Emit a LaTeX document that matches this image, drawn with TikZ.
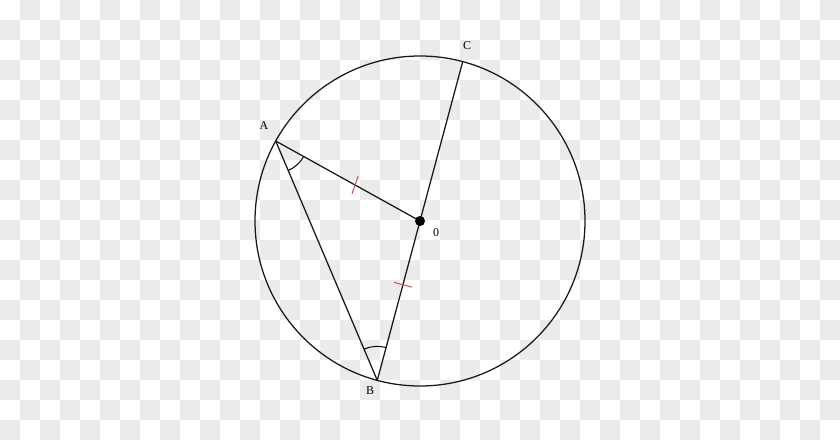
\documentclass[tikz,border=0pt]{standalone}
\usepackage{fontspec}
\setmainfont{Liberation Serif}
\usepackage{tikz}
\usetikzlibrary{calc,angles}

\definecolor{bggrey}{RGB}{235,235,235}
\definecolor{tickred}{RGB}{200,75,85}

\begin{document}
\begin{tikzpicture}[x=0.025cm, y=0.025cm, thick,
    edge/.style = {draw=black!90, line width=0.9pt},
    tick/.style = {draw=tickred, line width=0.7pt},
    lbl/.style = {font=\fontsize{8.5}{10}\selectfont, inner sep=0pt}]
    \useasboundingbox (0,0) rectangle (840,440);
    % checkerboard background
    \foreach \i in {0,...,20}
      \foreach \j in {0,...,21} {
        \pgfmathsetmacro\xx{40*\i+20*mod(\j+1,2)}
        \fill[bggrey] (\xx,420-20*\j) rectangle ++(20,20);
      }
    \coordinate (O) at (420,219);
    \coordinate (A) at ($(O)+(151:165)$);
    \coordinate (B) at ($(O)+(255:165)$);
    \coordinate (C) at ($(O)+(75:165)$);
    \draw[edge] (O) circle[radius=165];
    \draw[edge] (A) -- (O);
    \draw[edge] (A) -- (B);
    \draw[edge] (B) -- (C);
    \fill (O) circle[radius=5];
    % equal sides
    \coordinate (m1) at ($(O)!0.45!(A)$);
    \coordinate (m2) at ($(O)!0.40!(B)$);
    \draw[tick] ($(m1)!0.23cm!100:(A)$) -- ($(m1)!0.23cm!-80:(A)$);
    \draw[tick] ($(m2)!0.23cm!90:(B)$) -- ($(m2)!0.23cm!-90:(B)$);
    % angles
    \pic[draw, line width=0.7pt, angle radius=0.8cm] {angle = B--A--O};
    \pic[draw, line width=0.7pt, angle radius=0.85cm] {angle = O--B--A};
    \node[lbl] (la) at (264,314) {A};
    \node[lbl] (lb) at (370,49) {B};
    \node[lbl] (lc) at (467,394) {C};
    \node[lbl] (lo) at (436,207) {0};
\end{tikzpicture}
\end{document}
